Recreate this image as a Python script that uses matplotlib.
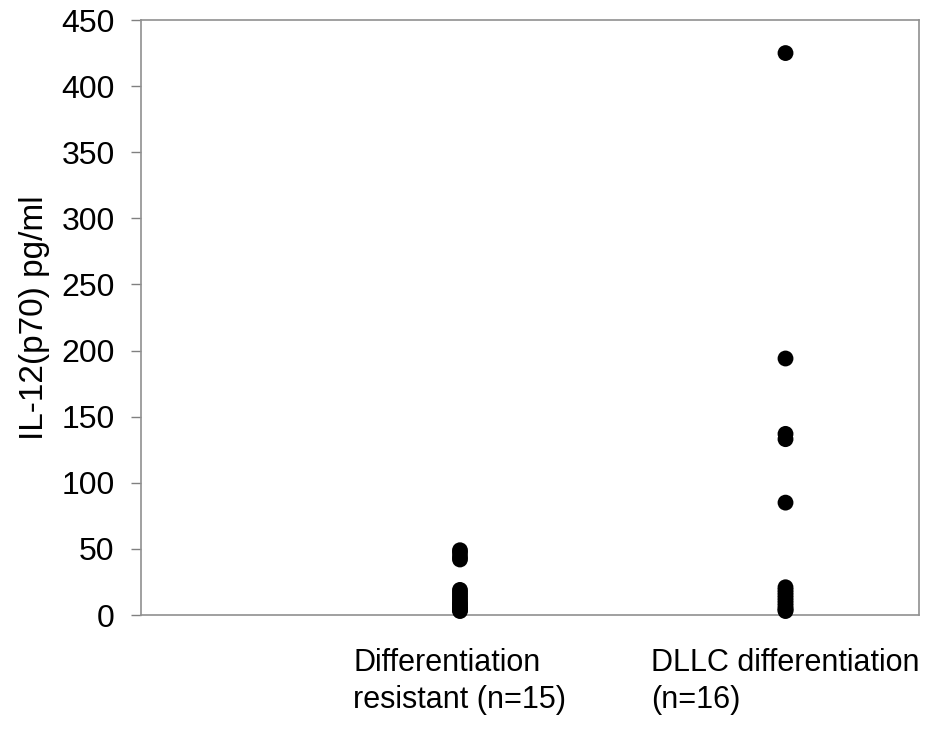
import numpy as np
import matplotlib.pyplot as plt

plt.rcParams['font.family'] = ['Liberation Sans', 'DejaVu Sans']

# Group labels and IL-12 values
groups = ['Differentiation\nresistant (n=15)', 'DLLC differentiation\n(n=16)']
resistant = [49, 47, 44, 42, 19, 17, 15, 13, 11, 9, 8, 6, 5, 4, 3]
dllc = [425, 194, 137, 133, 85, 21, 19, 17, 15, 13, 11, 9, 7, 5, 4, 3]
yticks = [0, 50, 100, 150, 200, 250, 300, 350, 400, 450]

fig = plt.figure(figsize=(9.41, 7.30), dpi=100)
ax = fig.add_axes([0.1498, 0.1575, 0.8268, 0.8151])

for i, vals in enumerate([resistant, dllc]):
    ax.scatter(np.full(len(vals), i + 1), vals, s=130, color='black',
               edgecolors='none', zorder=3, clip_on=False)

ax.set_xlim(0.02, 2.41)
ax.set_ylim(0, 450)
ax.set_yticks(yticks)
ax.set_xticks([1, 2])
ax.set_xticklabels(groups, fontsize=22, multialignment='left', linespacing=1.3)
ax.tick_params(axis='x', length=0, pad=24)
ax.tick_params(axis='y', labelsize=23, length=7, width=1, color='#808080',
               pad=12, direction='out')
ax.set_ylabel('IL-12(p70) pg/ml', fontsize=24, labelpad=8)

for sp in ax.spines.values():
    sp.set_color('#909090')
    sp.set_linewidth(1.2)

fig.savefig('out.png', dpi=100)
